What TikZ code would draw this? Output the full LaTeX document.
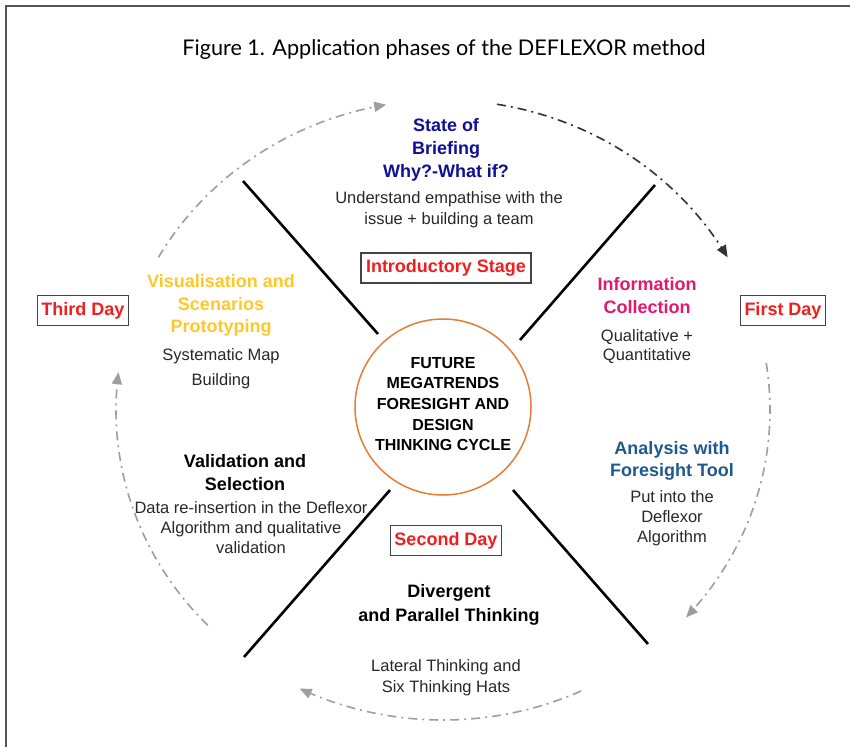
\documentclass[tikz,border=0pt]{standalone}
\usepackage{fontspec}
\setmainfont{Liberation Sans}
\newfontfamily\titlefont{Lato}
\usetikzlibrary{arrows.meta}
\definecolor{framegray}{RGB}{85,85,85}
\definecolor{boxgray}{RGB}{68,68,68}
\definecolor{txtgray}{RGB}{40,40,40}
\definecolor{dayred}{RGB}{240,30,30}
\definecolor{navy}{RGB}{16,16,150}
\definecolor{sunyellow}{RGB}{255,200,40}
\definecolor{magentapink}{RGB}{222,25,110}
\definecolor{steelblue}{RGB}{31,90,140}
\definecolor{ringorange}{RGB}{230,125,50}
\definecolor{arcgray}{RGB}{158,158,158}
\definecolor{arcdark}{RGB}{50,50,50}
\newcommand\fsz[2]{\fontsize{#1}{#2}\selectfont}
\begin{document}
\begin{tikzpicture}[x=1pt,y=-1pt,
  heading/.style={align=center, inner sep=0pt},
  body/.style={align=center, text=txtgray, inner sep=0pt},
  daybox/.style={draw=boxgray, line width=1.3pt, text=dayred, font=\bfseries\fsz{18}{22}, inner xsep=4pt, inner ysep=0pt, minimum height=30pt},
  spoke/.style={line width=2.6pt, black},
  cyc/.style={line width=1.6pt, dash pattern=on 9pt off 5pt on 2pt off 5pt, -{Triangle[length=12pt,width=10pt]}},
]
\useasboundingbox (0,0) rectangle (850,747);
\fill[white] (0,0) rectangle (850,747);
% frame
\draw[framegray, line width=1.6pt] (6,747) -- (6,6) -- (850,6);

% title
\node[inner sep=0pt, font=\titlefont\fsz{21.6}{26}] (title) at (444,50) {Figure 1. Application phases of the DEFLEXOR method};

% spokes
\coordinate (ulA) at (243,181); \coordinate (ulB) at (378,334);
\coordinate (urA) at (655,185); \coordinate (urB) at (520,340);
\coordinate (llA) at (390,490); \coordinate (llB) at (244,657);
\coordinate (lrA) at (513,490); \coordinate (lrB) at (648,644);
\draw[spoke] (ulA) -- (ulB);
\draw[spoke] (urA) -- (urB);
\draw[spoke] (llA) -- (llB);
\draw[spoke] (lrA) -- (lrB);

% centre
\node[circle, draw=ringorange, line width=1.5pt, minimum size=176pt, inner sep=0pt] (hub) at (443,407) {};
\node[heading, font=\bfseries\fsz{16}{20.7}] (hubtext) at (443,404) {FUTURE\\MEGATRENDS\\FORESIGHT AND\\DESIGN\\THINKING CYCLE};

% cycle arcs
\draw[cyc, arcgray] plot[domain=150.5:100, samples=60, smooth] ({443+327*cos(\x)},{410-310*sin(\x)});
\draw[cyc, arcdark] plot[domain=80.5:29.5, samples=60, smooth] ({443+327*cos(\x)},{410-310*sin(\x)});
\draw[cyc, arcgray] plot[domain=8.7:-42, samples=60, smooth] ({443+327*cos(\x)},{410-310*sin(\x)});
\draw[cyc, arcgray] plot[domain=-65:-116, samples=60, smooth] ({443+327*cos(\x)},{410-310*sin(\x)});
\draw[cyc, arcgray] plot[domain=-136:-187, samples=60, smooth] ({443+327*cos(\x)},{410-310*sin(\x)});

% top sector
\node[heading, text=navy, font=\bfseries\fsz{18}{23}] (brief) at (446,150) {State of\\Briefing\\Why?-What if?};
\node[body, font=\fsz{16.5}{21}] (briefT) at (449,209.5) {Understand empathise with the\\issue + building a team};
\node[daybox, inner xsep=5pt] (intro) at (446,268) {Introductory Stage};

% day boxes
\node[daybox] (third) at (83,310.5) {Third Day};
\node[daybox] (first) at (783,310.5) {First Day};
\node[daybox] (second) at (446,540.5) {Second Day};

% left sector
\node[heading, text=sunyellow, font=\bfseries\fsz{18}{22.5}] (vis) at (221,305.5) {Visualisation and\\Scenarios\\Prototyping};
\node[body, font=\fsz{16.5}{25}] (visT) at (221,368.5) {Systematic Map\\Building};
\node[heading, font=\bfseries\fsz{18}{23}] (val) at (245,472.5) {Validation and\\Selection};
\node[body, font=\fsz{16.5}{20}] (valT) at (251,528) {Data re-insertion in the Deflexor\\Algorithm and qualitative\\validation};

% right sector
\node[heading, text=magentapink, font=\bfseries\fsz{18}{23}] (info) at (647,295.5) {Information\\Collection};
\node[body, font=\fsz{16.5}{19.5}] (infoT) at (647,346.5) {Qualitative +\\Quantitative};
\node[heading, text=steelblue, font=\bfseries\fsz{18}{22}] (ana) at (672,461) {Analysis with\\Foresight Tool};
\node[body, font=\fsz{16.5}{20}] (anaT) at (672,518) {Put into the\\Deflexor\\Algorithm};

% bottom sector
\node[heading, font=\bfseries\fsz{18}{24}] (div) at (449,605) {Divergent\\and Parallel Thinking};
\node[body, font=\fsz{16.5}{21}] (divT) at (446,678) {Lateral Thinking and\\Six Thinking Hats};
\end{tikzpicture}
\end{document}
